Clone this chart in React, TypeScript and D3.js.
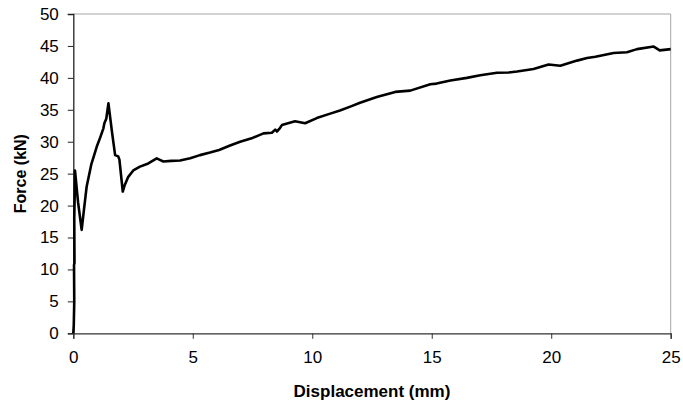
import React, { useEffect, useRef } from "react";
import * as d3 from "d3";

const displacement = [
  0, 0.02, 0.04, 0.03, 0.05, 0.04, 0.06, 0.07, 0.2, 0.35, 0.45, 0.56, 0.75, 0.98,
  1.12, 1.26, 1.3, 1.38, 1.47, 1.62, 1.75, 1.88, 1.93, 2.07, 2.15, 2.3, 2.51,
  2.79, 3.14, 3.49, 3.6, 3.77, 4.1, 4.47, 4.89, 5.3, 5.72, 6.1, 6.56, 6.98, 7.5,
  7.96, 8.31, 8.45, 8.52, 8.62, 8.73, 9.28, 9.7, 10.19, 10.75, 11.16, 11.59,
  12.0, 12.7, 13.47, 14.1, 14.94, 15.2, 15.78, 16.47, 17.03, 17.73, 18.22,
  18.57, 19.26, 19.89, 20.38, 21.08, 21.5, 21.85, 22.61, 23.17, 23.59, 24.29,
  24.54, 25.0,
];
const force = [
  0, 1.3, 5, 10.7, 11, 18, 22, 25.5, 20.5, 16.2, 19.5, 23.0, 26.4, 29.2,
  30.6, 32.1, 32.9, 33.6, 36.0, 31.5, 27.9, 27.7, 27.2, 22.2, 23.2, 24.5, 25.5,
  26.1, 26.6, 27.4, 27.2, 26.9, 27.0, 27.05, 27.4, 27.9, 28.3, 28.7, 29.4, 30.0,
  30.6, 31.3, 31.4, 31.9, 31.6, 32.0, 32.6, 33.2, 32.9, 33.7, 34.4, 34.9, 35.5,
  36.1, 37.0, 37.8, 38.0, 39.0, 39.1, 39.6, 40.0, 40.4, 40.8, 40.85, 41.0,
  41.4, 42.1, 41.9, 42.7, 43.1, 43.3, 43.9, 44.0, 44.5, 44.9, 44.3, 44.5,
];
const xTicks = [0, 5, 10, 15, 20, 25];
const yTicks = [0, 5, 10, 15, 20, 25, 30, 35, 40, 45, 50];
const xTitle = "Displacement (mm)";
const yTitle = "Force (kN)";

const W = 683;
const H = 403;
const M = { left: 73.3, right: 670.7, top: 14, bottom: 333.3 };
const FONT = "'Liberation Sans', Arial, sans-serif";
const FS = 17;

export default function App() {
  const ref = useRef<SVGSVGElement | null>(null);

  useEffect(() => {
    const svg = d3.select(ref.current);
    svg.selectAll("*").remove();

    const x = d3.scaleLinear().domain([0, 25]).range([M.left, M.right]);
    const y = d3.scaleLinear().domain([0, 50]).range([M.bottom, M.top]);

    svg
      .append("path")
      .attr("d", `M${M.left},${M.top}H${M.right}V${M.bottom}`)
      .attr("fill", "none")
      .attr("stroke", "#a6a6a6")
      .attr("stroke-width", 1);

    const gy = svg.append("g").attr("transform", `translate(${M.left},0)`);
    gy.call(
      d3
        .axisLeft(y)
        .tickValues(yTicks)
        .tickSize(5.5)
        .tickPadding(9)
        .tickFormat(d3.format("d")) as any
    );
    gy.select(".domain").attr("stroke", "#222").attr("stroke-width", 1.3);
    gy.selectAll(".tick line").attr("stroke", "#222");
    gy.selectAll(".tick text")
      .attr("font-family", FONT)
      .attr("font-size", FS)
      .attr("fill", "#000");

    const gx = svg.append("g").attr("transform", `translate(0,${M.bottom})`);
    gx.call(
      d3
        .axisBottom(x)
        .tickValues(xTicks)
        .tickSize(5.5)
        .tickPadding(12)
        .tickFormat(d3.format("d")) as any
    );
    gx.select(".domain").attr("stroke", "#333").attr("stroke-width", 1.3);
    gx.selectAll(".tick line").attr("stroke", "#333");
    gx.selectAll(".tick text")
      .attr("font-family", FONT)
      .attr("font-size", FS)
      .attr("fill", "#000");

    svg
      .append("text")
      .attr("x", (M.left + M.right) / 2)
      .attr("y", 397)
      .attr("text-anchor", "middle")
      .attr("font-family", FONT)
      .attr("font-weight", "bold")
      .attr("font-size", FS)
      .text(xTitle);
    svg
      .append("text")
      .attr("transform", `translate(26,${(M.top + M.bottom) / 2}) rotate(-90)`)
      .attr("text-anchor", "middle")
      .attr("font-family", FONT)
      .attr("font-weight", "bold")
      .attr("font-size", 16)
      .text(yTitle);

    const data = displacement.map((d, i) => [d, force[i]] as [number, number]);
    const line = d3
      .line<[number, number]>()
      .x((d) => x(d[0]))
      .y((d) => y(d[1]));
    svg
      .append("path")
      .datum(data)
      .attr("d", line)
      .attr("fill", "none")
      .attr("stroke", "#000")
      .attr("stroke-width", 2.6)
      .attr("stroke-linejoin", "round");
  }, []);

  return (
    <svg
      ref={ref}
      width={W}
      height={H}
      style={{ position: "absolute", left: 0, top: 0, background: "#fff" }}
    />
  );
}
